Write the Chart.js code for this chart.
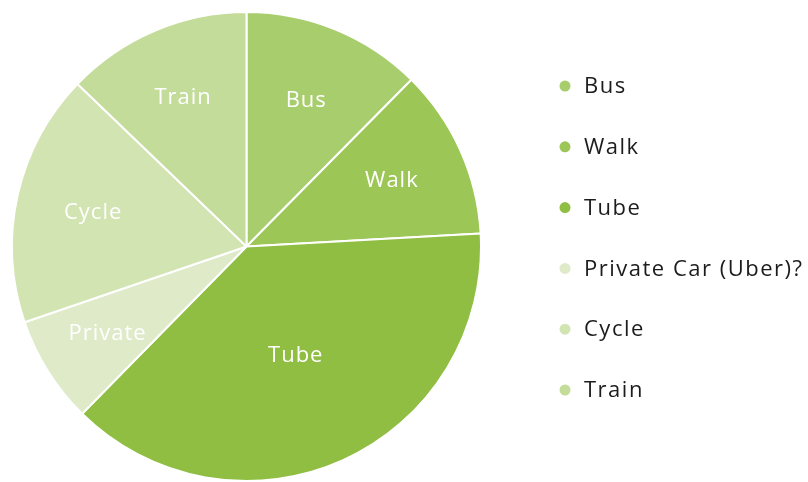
<!DOCTYPE html>
<html>
<head>
<meta charset="utf-8">
<script src="https://cdn.jsdelivr.net/npm/chart.js@4.4.1/dist/chart.umd.min.js"></script>
<style>
  html, body { margin: 0; padding: 0; background: #ffffff; }
  #wrap { width: 808px; height: 482px; position: relative; }
</style>
</head>
<body>
<div id="wrap"><canvas id="c" width="808" height="482"></canvas></div>
<script>
// ---- data ----
const categories = ["Bus", "Walk", "Tube", "Private Car (Uber)?", "Cycle", "Train"];
const sliceLabels = ["Bus", "Walk", "Tube", "Private", "Cycle", "Train"];
const shares = [12.4, 11.7, 38.2, 7.4, 17.4, 12.8];
const colors = ["#a7cd6c", "#9cc656", "#8fbe43", "#deeac8", "#d2e4b1", "#c3dc99"];

// label radius as a fraction of the outer radius (layout only)
const labelRadiusFrac = [0.67, 0.68, 0.51, 0.70, 0.67, 0.69];
const FONT = "'Open Sans', Lato, sans-serif";

const sliceLabelPlugin = {
  id: 'sliceLabels',
  afterDatasetsDraw(chart) {
    const ctx = chart.ctx;
    const meta = chart.getDatasetMeta(0);
    ctx.save();
    ctx.fillStyle = '#ffffff';
    ctx.textAlign = 'center';
    ctx.textBaseline = 'middle';
    ctx.font = '22px ' + FONT;
    try { ctx.letterSpacing = '1px'; } catch (e) {}
    meta.data.forEach((arc, i) => {
      const p = arc.getProps(['x', 'y', 'startAngle', 'endAngle', 'outerRadius'], true);
      const mid = (p.startAngle + p.endAngle) / 2;
      const r = p.outerRadius * labelRadiusFrac[i];
      ctx.fillText(sliceLabels[i], p.x + Math.cos(mid) * r, p.y + Math.sin(mid) * r);
    });
    ctx.restore();
  }
};

const legendPlugin = {
  id: 'sideLegend',
  afterDraw(chart) {
    const ctx = chart.ctx;
    const x0 = 565, y0 = 86, step = 60.8;
    ctx.save();
    ctx.font = '22px ' + FONT;
    try { ctx.letterSpacing = '1.5px'; } catch (e) {}
    ctx.textBaseline = 'middle';
    ctx.textAlign = 'left';
    chart.data.labels.forEach((lab, i) => {
      const y = y0 + i * step;
      ctx.beginPath();
      ctx.arc(x0, y, 5.5, 0, Math.PI * 2);
      ctx.fillStyle = chart.data.datasets[0].backgroundColor[i];
      ctx.fill();
      ctx.fillStyle = '#1c1c1c';
      ctx.fillText(lab, 584, y + 1);
    });
    ctx.restore();
  }
};

new Chart(document.getElementById('c'), {
  type: 'pie',
  data: {
    labels: categories,
    datasets: [{
      data: shares,
      backgroundColor: colors,
      borderColor: '#ffffff',
      borderWidth: 2
    }]
  },
  options: {
    responsive: false,
    animation: false,
    layout: { padding: { left: 10, right: 325, top: 11, bottom: 0 } },
    plugins: {
      legend: { display: false },
      tooltip: { enabled: false }
    }
  },
  plugins: [sliceLabelPlugin, legendPlugin]
});
</script>
</body>
</html>
